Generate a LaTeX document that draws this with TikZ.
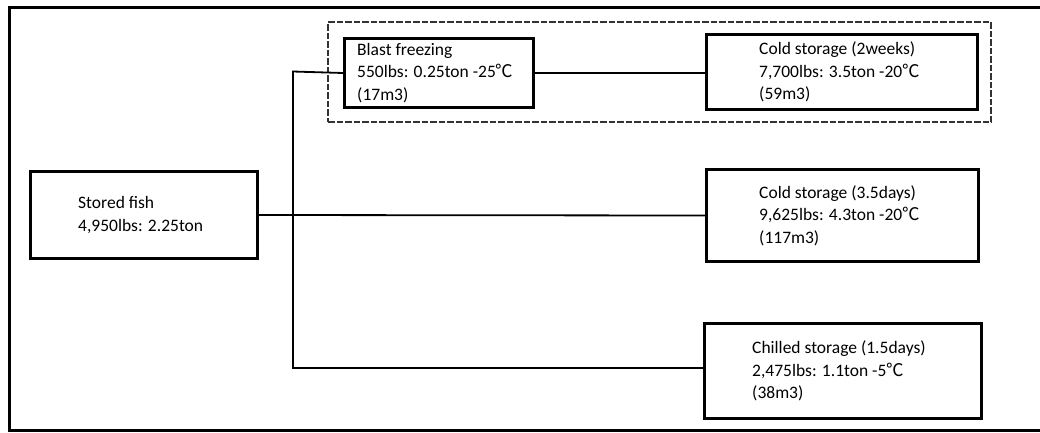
\documentclass[tikz,border=0pt]{standalone}
\usepackage{fontspec}
\setmainfont{Carlito}
\newfontfamily\cjk{Noto Sans CJK SC}
\newcommand{\degc}{{\cjk ℃}}
\begin{document}
\begin{tikzpicture}[x=1pt,y=-1pt,
  box/.style={draw, line width=3pt, anchor=north west, inner sep=0pt, fill=white},
  lbl/.style={anchor=west, align=left, inner sep=0pt, font=\fontsize{17.5pt}{22.5pt}\selectfont},
  link/.style={line width=1.8pt},
  group/.style={draw=black!80, line width=2.2pt, dash pattern=on 6.5pt off 2pt, anchor=north west, inner sep=0pt}]
\useasboundingbox (0,0) rectangle (1040,432);
\draw[line width=3pt] (1042,7) -- (9,7) -- (9,430) -- (1042,430);
% group
\node[group, minimum width=663pt, minimum height=100pt] (grp) at (327,21) {};
% boxes
\node[box, minimum width=227pt, minimum height=87pt] (sf) at (29,170) {};
\node[box, minimum width=189pt, minimum height=69pt] (blast) at (343,37) {};
\node[box, minimum width=271pt, minimum height=75pt] (cold2) at (705,33) {};
\node[box, minimum width=272pt, minimum height=92pt] (cold35) at (705,168) {};
\node[box, minimum width=277pt, minimum height=95pt] (chill) at (703,322) {};
% labels
\node[lbl] (sft) at ([xshift=49pt]sf.west) {Stored fish\\4,950lbs: 2.25ton};
\node[lbl] (blastt) at ([xshift=14pt]blast.west) {Blast freezing\\550lbs: 0.25ton -25\degc\\(17m3)};
\node[lbl] (cold2t) at ([xshift=54pt]cold2.west) {Cold storage (2weeks)\\7,700lbs: 3.5ton -20\degc\\(59m3)};
\node[lbl] (cold35t) at ([xshift=54pt]cold35.west) {Cold storage (3.5days)\\9,625lbs: 4.3ton -20\degc\\(117m3)};
\node[lbl] (chillt) at ([xshift=49pt]chill.west) {Chilled storage (1.5days)\\2,475lbs: 1.1ton -5\degc\\(38m3)};
% connectors
\coordinate (tt) at (293,71.5);
\coordinate (tb) at (293,368);
\draw[link] (blast.west) -- (tt) -- (tb) -- (tb -| chill.west);
\draw[link] (sf.east) -- (cold35.west);
\draw[link] (blast.east) -- (blast.east -| cold2.west);
\end{tikzpicture}
\end{document}
